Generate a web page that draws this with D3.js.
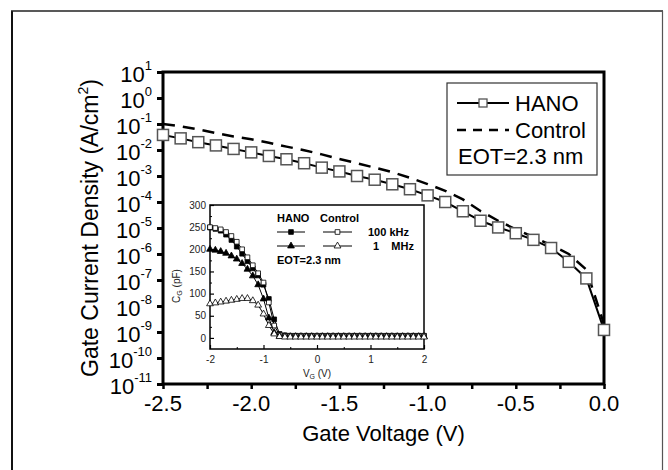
<!DOCTYPE html>
<html>
<head>
<meta charset="utf-8">
<script src="https://cdn.jsdelivr.net/npm/d3@7"></script>
<style>
    body { margin: 0; background: #fff; }
    svg { display: block; }
    text { font-family: "Liberation Sans", Arial, sans-serif; }
</style>
</head>
<body>
<svg width="668" height="470"></svg>
<script>
// Main plot data: gate voltage (V) vs gate current density (A/cm^2)
const gateVoltage = [-2.5, -2.4, -2.3, -2.2, -2.1, -2.0, -1.9, -1.8, -1.7, -1.6, -1.5, -1.4, -1.3,
    -1.2, -1.1, -1.0, -0.9, -0.8, -0.7, -0.6, -0.5, -0.4, -0.3, -0.2, -0.1, 0.0];
const hanoJ = [3.8e-2, 2.8e-2, 2.0e-2, 1.5e-2, 1.1e-2, 8.1e-3, 5.9e-3, 4.4e-3, 3.1e-3, 2.1e-3, 1.5e-3,
    1.0e-3, 7.2e-4, 4.8e-4, 3.1e-4, 1.8e-4, 1.0e-4, 4.4e-5, 1.9e-5, 1.05e-5, 6.3e-6, 3.5e-6, 1.7e-6,
    5.0e-7, 1.15e-7, 1.2e-9];
const controlJ = [1.0e-1, 8.1e-2, 6.2e-2, 4.5e-2, 3.3e-2, 2.6e-2, 1.9e-2, 1.35e-2, 9.8e-3, 6.8e-3, 4.5e-3,
    3.1e-3, 2.1e-3, 1.4e-3, 8.5e-4, 4.9e-4, 2.7e-4, 1.26e-4, 4.5e-5, 1.9e-5, 8.9e-6, 4.5e-6, 2.2e-6,
    1.0e-6, 2.5e-7, 2.0e-9];
const yTickExponents = [1, 0, -1, -2, -3, -4, -5, -6, -7, -8, -9, -10, -11];
const xTicks = [-2.5, -2.0, -1.5, -1.0, -0.5, 0.0];
const xMinorTicks = [-2.25, -1.75, -1.25, -0.75, -0.25];

// Inset data: C-V curves
const insetV = [-2.0, -1.9, -1.8, -1.7, -1.6, -1.5, -1.4, -1.3, -1.2, -1.1, -1.0, -0.9, -0.8, -0.7, -0.6,
    -0.5, -0.4, -0.3, -0.2, -0.1, 0.0, 0.1, 0.2, 0.3, 0.4, 0.5, 0.6, 0.7, 0.8, 0.9, 1.0,
    1.1, 1.2, 1.3, 1.4, 1.5, 1.6, 1.7, 1.8, 1.9, 2.0];
const hano100k = [249, 246, 242, 233, 221, 206, 190, 173, 157, 141, 120, 88, 42, 9, 6,
    5, 5, 5, 5, 5, 5, 5, 5, 5, 5, 5, 5, 5, 5, 5, 5, 5, 5, 5, 5, 5, 5, 5, 5, 5, 5];
const control100k = [250, 248, 245, 239, 230, 217, 200, 182, 164, 146, 125, 80, 28, 7, 4,
    4, 4, 4, 4, 4, 4, 4, 4, 4, 4, 4, 4, 4, 4, 4, 4, 4, 4, 4, 4, 4, 4, 4, 4, 4, 4];
const hano1M = [200, 198, 195, 191, 185, 178, 168, 155, 140, 120, 88, 45, 12, 4, 3,
    3, 3, 3, 3, 3, 3, 3, 3, 3, 3, 3, 3, 3, 3, 3, 3, 3, 3, 3, 3, 3, 3, 3, 3, 3, 3];
const control1M = [77, 79, 81, 83, 85, 87, 89, 89, 84, 74, 54, 28, 9, 3, 2,
    2, 2, 2, 2, 2, 2, 2, 2, 2, 2, 2, 2, 2, 2, 2, 2, 2, 2, 2, 2, 2, 2, 2, 2, 2, 2];
const insetYTicks = [0, 50, 100, 150, 200, 250, 300];
const insetYMinor = [25, 75, 125, 175, 225, 275];
const insetXTicks = [-2, -1, 0, 1, 2];
const insetXMinor = [-1.5, -0.5, 0.5, 1.5];

window.onload = init;

function init() {
    const svg = d3.select("svg");

    // outer frame of the figure
    svg.append("line").attr("x1", 12).attr("y1", 11).attr("x2", 12).attr("y2", 470)
        .attr("stroke", "#111").attr("stroke-width", 2);
    svg.append("line").attr("x1", 11).attr("y1", 11).attr("x2", 663).attr("y2", 11)
        .attr("stroke", "#222").attr("stroke-width", 1.5);
    svg.append("line").attr("x1", 662.5).attr("y1", 11).attr("x2", 662.5).attr("y2", 470)
        .attr("stroke", "#555").attr("stroke-width", 1.2);

    // ---- main plot ----
    const left = 163, right = 604, top = 72, bottom = 384;
    const x = d3.scaleLinear().domain([-2.5, 0]).range([left, right]);
    const y = d3.scaleLog().domain([1e-11, 10]).range([bottom, top]);

    // x ticks
    svg.append("g")
        .attr("transform", `translate(0,${bottom})`)
        .call(d3.axisBottom(x).tickValues(xTicks.concat(xMinorTicks)).tickSizeInner(5).tickSizeOuter(0).tickFormat(""))
        .call(g => g.select(".domain").remove())
        .call(g => g.selectAll(".tick line").attr("stroke", "#000").attr("stroke-width", 2.5));

    svg.append("g").selectAll("text")
        .data(xTicks)
        .join("text")
        .attr("x", d => x(d))
        .attr("y", 411)
        .attr("text-anchor", "middle")
        .style("font-size", "22px")
        .text(d => d.toFixed(1));

    // y ticks
    svg.append("g")
        .attr("transform", `translate(${left},0)`)
        .call(d3.axisLeft(y).tickValues(yTickExponents.map(e => Math.pow(10, e))).tickSizeInner(6).tickSizeOuter(0).tickFormat(""))
        .call(g => g.select(".domain").remove())
        .call(g => g.selectAll(".tick line").attr("stroke", "#000").attr("stroke-width", 3));

    const yLab = svg.append("g").selectAll("text")
        .data(yTickExponents)
        .join("text")
        .attr("x", 152)
        .attr("y", d => y(Math.pow(10, d)) + 9.5)
        .attr("text-anchor", "end")
        .style("font-size", "22px");
    yLab.append("tspan").text("10");
    yLab.append("tspan").attr("dy", -12).style("font-size", "13px").text(d => d);

    // frame of the main plot
    svg.append("rect")
        .attr("x", left).attr("y", top)
        .attr("width", right - left).attr("height", bottom - top)
        .attr("fill", "none").attr("stroke", "#000").attr("stroke-width", 3);

    // axis titles
    svg.append("text")
        .attr("x", (left + right) / 2).attr("y", 441)
        .attr("text-anchor", "middle")
        .style("font-size", "22px")
        .text("Gate Voltage (V)");

    const yTitle = svg.append("text")
        .attr("transform", `translate(98,${(top + bottom) / 2}) rotate(-90)`)
        .attr("text-anchor", "middle")
        .style("font-size", "23px");
    yTitle.append("tspan").text("Gate Current Density (A/cm");
    yTitle.append("tspan").attr("dy", -10).style("font-size", "14px").text("2");
    yTitle.append("tspan").attr("dy", 10).text(")");

    // control: dashed line
    const line = d3.line().x(d => x(d[0])).y(d => y(d[1]));
    svg.append("path")
        .datum(d3.zip(gateVoltage, controlJ))
        .attr("d", line)
        .attr("fill", "none")
        .attr("stroke", "#000")
        .attr("stroke-width", 2.5)
        .attr("stroke-dasharray", "12,8");

    // HANO: line with open squares
    const hanoData = d3.zip(gateVoltage, hanoJ);
    svg.append("path")
        .datum(hanoData)
        .attr("d", line)
        .attr("fill", "none")
        .attr("stroke", "#000")
        .attr("stroke-width", 2);

    svg.append("g").selectAll("rect")
        .data(hanoData)
        .join("rect")
        .attr("x", d => x(d[0]) - 5.5)
        .attr("y", d => y(d[1]) - 5.5)
        .attr("width", 11).attr("height", 11)
        .attr("fill", "#fff")
        .attr("stroke", "#555")
        .attr("stroke-width", 1.5);

    // legend
    const lg = svg.append("g");
    lg.append("rect").attr("x", 447).attr("y", 83).attr("width", 150).attr("height", 92)
        .attr("fill", "#fff").attr("stroke", "#333").attr("stroke-width", 1.2);
    lg.append("line").attr("x1", 457).attr("x2", 509).attr("y1", 103).attr("y2", 103)
        .attr("stroke", "#000").attr("stroke-width", 2);
    lg.append("rect").attr("x", 479).attr("y", 99).attr("width", 8).attr("height", 8)
        .attr("fill", "#fff").attr("stroke", "#555").attr("stroke-width", 1.3);
    lg.append("text").attr("x", 515).attr("y", 111).style("font-size", "22px").text("HANO");
    lg.append("line").attr("x1", 457).attr("x2", 509).attr("y1", 130).attr("y2", 130)
        .attr("stroke", "#000").attr("stroke-width", 2.5).attr("stroke-dasharray", "9,7");
    lg.append("text").attr("x", 515).attr("y", 138).style("font-size", "22px").text("Control");
    lg.append("text").attr("x", 458).attr("y", 164).style("font-size", "22px").text("EOT=2.3 nm");

    // ---- inset ----
    const iL = 210, iR = 424, iT = 205, iB = 349;
    const ix = d3.scaleLinear().domain([-2, 2]).range([iL, iR]);
    const iy = d3.scaleLinear().domain([-25, 300]).range([iB, iT]);
    const inset = svg.append("g");

    inset.append("rect").attr("x", iL).attr("y", iT).attr("width", iR - iL).attr("height", iB - iT)
        .attr("fill", "#fff").attr("stroke", "#000").attr("stroke-width", 1.5);

    inset.append("g")
        .attr("transform", `translate(${iL},0)`)
        .call(d3.axisLeft(iy).tickValues(insetYTicks).tickSizeInner(-4).tickSizeOuter(0).tickPadding(4)
            .tickFormat(d => String(d)))
        .call(g => g.select(".domain").remove())
        .call(g => g.selectAll(".tick line").attr("stroke", "#000").attr("stroke-width", 1.2))
        .call(g => g.selectAll("text").style("font-size", "10px").attr("fill", "#222")
            .style("font-family", "'Liberation Sans', Arial, sans-serif"));
    inset.append("g")
        .attr("transform", `translate(${iL},0)`)
        .call(d3.axisLeft(iy).tickValues(insetYMinor).tickSizeInner(-2).tickSizeOuter(0).tickFormat(""))
        .call(g => g.select(".domain").remove())
        .call(g => g.selectAll(".tick line").attr("stroke", "#000").attr("stroke-width", 1));

    inset.append("g")
        .attr("transform", `translate(0,${iB})`)
        .call(d3.axisBottom(ix).tickValues(insetXTicks).tickSizeInner(-4).tickSizeOuter(0).tickPadding(7)
            .tickFormat(d => String(d)))
        .call(g => g.select(".domain").remove())
        .call(g => g.selectAll(".tick line").attr("stroke", "#000").attr("stroke-width", 1.2))
        .call(g => g.selectAll("text").style("font-size", "10px").attr("fill", "#222")
            .style("font-family", "'Liberation Sans', Arial, sans-serif"));
    inset.append("g")
        .attr("transform", `translate(0,${iB})`)
        .call(d3.axisBottom(ix).tickValues(insetXMinor).tickSizeInner(-2).tickSizeOuter(0).tickFormat(""))
        .call(g => g.select(".domain").remove())
        .call(g => g.selectAll(".tick line").attr("stroke", "#000").attr("stroke-width", 1));

    // inset titles
    const ixT = inset.append("text").attr("x", (iL + iR) / 2).attr("y", 377)
        .attr("text-anchor", "middle").style("font-size", "10px").attr("fill", "#222");
    ixT.append("tspan").text("V");
    ixT.append("tspan").attr("dy", 2).style("font-size", "7px").text("G");
    ixT.append("tspan").attr("dy", -2).text(" (V)");

    const iyT = inset.append("text").attr("transform", "translate(180,286) rotate(-90)")
        .attr("text-anchor", "middle").style("font-size", "10px").attr("fill", "#222");
    iyT.append("tspan").text("C");
    iyT.append("tspan").attr("dy", 2).style("font-size", "7px").text("G");
    iyT.append("tspan").attr("dy", -2).text(" (pF)");

    // inset series
    const iline = d3.line().x(d => ix(d[0])).y(d => iy(d[1]));
    const square = d3.symbol().type(d3.symbolSquare).size(22);
    const triangle = d3.symbol().type(d3.symbolTriangle).size(20);
    const series = [
        { values: hano100k, symbol: square, fill: "#000" },
        { values: control100k, symbol: square, fill: "#fff" },
        { values: hano1M, symbol: triangle, fill: "#000" },
        { values: control1M, symbol: triangle, fill: "#fff" }
    ];
    series.forEach(s => {
        const pts = d3.zip(insetV, s.values);
        inset.append("path").datum(pts).attr("d", iline)
            .attr("fill", "none").attr("stroke", "#000").attr("stroke-width", 1);
        inset.append("g").selectAll("path")
            .data(pts)
            .join("path")
            .attr("transform", d => `translate(${ix(d[0])},${iy(d[1])})`)
            .attr("d", s.symbol)
            .attr("fill", s.fill)
            .attr("stroke", "#000")
            .attr("stroke-width", 0.8);
    });

    // inset legend
    const il = inset.append("g").style("font-weight", "bold").style("font-size", "11px");
    il.append("text").attr("x", 277).attr("y", 222).text("HANO");
    il.append("text").attr("x", 320).attr("y", 222).text("Control");
    const rows = [
        { yy: 232, sym: square, label: "100 kHz", lx: 368 },
        { yy: 246, sym: triangle, label: "1    MHz", lx: 373 }
    ];
    rows.forEach(r => {
        [[277, 305, "#000"], [323, 352, "#fff"]].forEach(([a, b, f]) => {
            il.append("line").attr("x1", a).attr("x2", b).attr("y1", r.yy).attr("y2", r.yy)
                .attr("stroke", "#000").attr("stroke-width", 1);
            il.append("path").attr("transform", `translate(${(a + b) / 2},${r.yy})`)
                .attr("d", r.sym).attr("fill", f).attr("stroke", "#000").attr("stroke-width", 0.8);
        });
        il.append("text").attr("x", r.lx).attr("y", r.yy + 4).attr("xml:space", "preserve")
            .style("white-space", "pre").text(r.label);
    });
    il.append("text").attr("x", 277).attr("y", 264).text("EOT=2.3 nm");
}
</script>
</body>
</html>
